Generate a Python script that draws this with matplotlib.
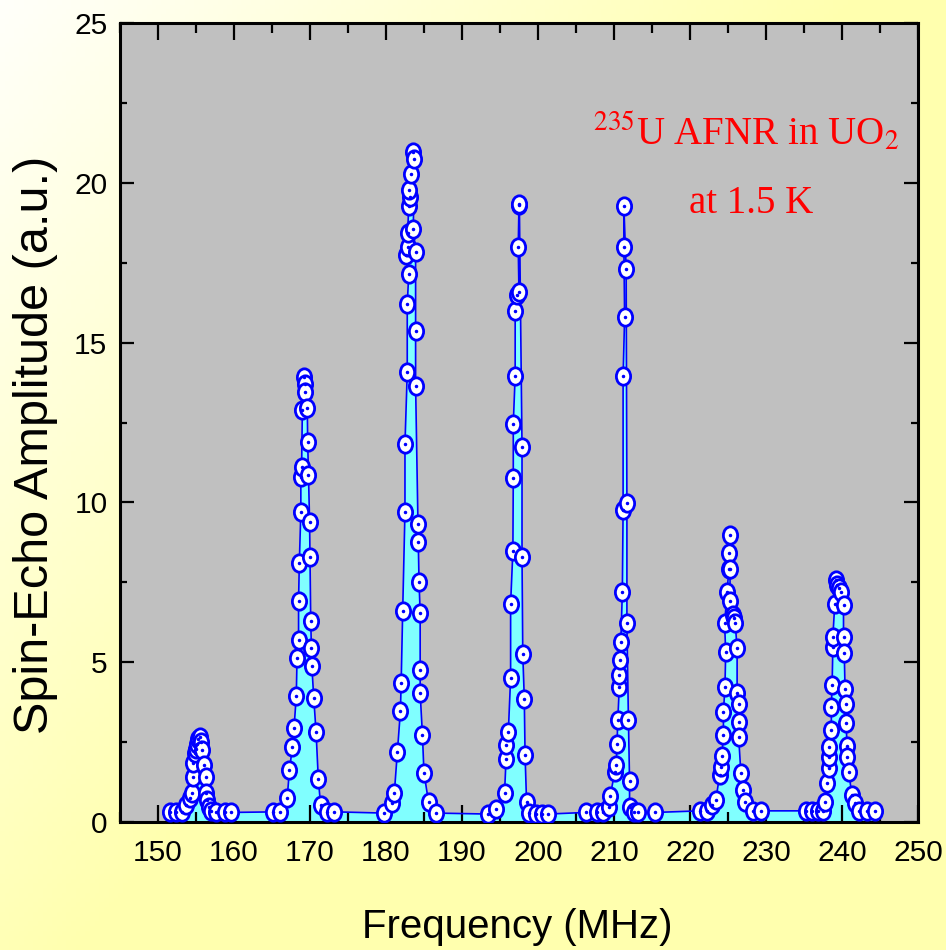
import numpy as np
import matplotlib
matplotlib.use("Agg")
import matplotlib.pyplot as plt
from matplotlib.path import Path
from matplotlib.transforms import Affine2D
from matplotlib.colors import LinearSegmentedColormap

# data, one block per line (left flank up, right flank down)
freq_155 = [151.6, 152.4, 153.1, 153.7, 154.2, 154.5, 154.6, 154.6, 154.9, 155.0, 155.2, 155.3,
            155.5, 155.7, 155.8, 156.1, 156.3, 156.3, 156.4, 156.7, 157.0, 157.7, 158.8, 159.6]
amp_155 = [0.3, 0.3, 0.3, 0.53, 0.75, 0.92, 1.42, 1.85, 2.15, 2.3, 2.45, 2.6,
           2.65, 2.5, 2.25, 1.78, 1.42, 0.9, 0.69, 0.48, 0.35, 0.3, 0.3, 0.3]

freq_169 = [165.1, 166.0, 167.0, 167.3, 167.7, 167.9, 168.2, 168.3, 168.5, 168.5, 168.6, 168.8,
            168.8, 168.9, 169.0, 169.2, 169.3, 169.4, 169.65, 169.7, 169.8, 169.95, 170.0, 170.1,
            170.2, 170.25, 170.5, 170.8, 171.1, 171.4, 172.3, 173.1]
amp_169 = [0.32, 0.32, 0.74, 1.63, 2.36, 2.93, 3.94, 5.14, 5.71, 6.91, 8.11, 9.71,
           10.8, 11.1, 12.9, 13.93, 13.7, 13.46, 12.94, 11.9, 10.86, 9.4, 8.3, 6.3,
           5.43, 4.88, 3.87, 2.83, 1.34, 0.53, 0.32, 0.32]

freq_183 = [179.7, 180.8, 181.1, 181.5, 181.9, 182.0, 182.2, 182.5, 182.5, 182.8, 182.8, 183.0,
            182.6, 182.85, 182.85, 183.0, 183.2, 183.0, 183.3, 183.6, 183.7, 183.6, 183.9, 183.9,
            183.9, 184.2, 184.25, 184.35, 184.5, 184.5, 184.5, 184.8, 185.0, 185.6, 186.6]
amp_183 = [0.28, 0.59, 0.91, 2.19, 3.47, 4.36, 6.6, 9.71, 11.83, 14.07, 16.2, 17.15,
           17.74, 18.0, 18.44, 19.28, 19.55, 19.77, 20.28, 20.95, 20.75, 18.55, 17.85, 15.36,
           13.65, 9.33, 8.77, 7.52, 6.54, 4.76, 4.03, 2.72, 1.54, 0.63, 0.28]

freq_197 = [193.4, 194.5, 195.6, 195.8, 195.8, 196.1, 196.4, 196.4, 196.7, 196.75, 196.75, 197.0,
            197.0, 197.3, 197.5, 197.4, 197.5, 197.55, 197.9, 197.9, 198.0, 198.2, 198.3, 198.5,
            198.8, 199.7, 200.5, 201.3]
amp_197 = [0.25, 0.41, 0.9, 1.97, 2.42, 2.82, 4.51, 6.83, 8.49, 10.77, 12.46, 13.96,
           15.99, 16.5, 16.57, 17.98, 19.3, 19.35, 11.74, 8.29, 5.26, 3.86, 2.1, 0.62,
           0.27, 0.25, 0.25, 0.25]

freq_211 = [206.3, 207.8, 208.6, 209.3, 209.5, 210.1, 210.3, 210.4, 210.5, 210.7, 210.7, 210.8,
            210.9, 211.1, 211.2, 211.2, 211.4, 211.3, 211.3, 211.6, 211.7, 211.7, 211.9, 212.05,
            212.05, 212.65, 213.2, 215.4]
amp_211 = [0.3, 0.3, 0.3, 0.46, 0.81, 1.57, 1.78, 2.43, 3.19, 4.23, 4.6, 5.07,
           5.63, 7.2, 9.76, 13.95, 15.8, 18.0, 19.27, 17.3, 9.98, 6.23, 3.19, 1.28,
           0.48, 0.3, 0.3, 0.3]

freq_225 = [221.3, 222.3, 222.9, 223.4, 223.9, 224.1, 224.2, 224.4, 224.4, 224.6, 224.7, 224.55,
            224.9, 225.1, 225.1, 225.2, 225.25, 225.3, 225.6, 225.8, 225.95, 226.2, 226.2, 226.4,
            226.4, 226.4, 226.7, 227.0, 227.3, 228.25, 229.35]
amp_225 = [0.35, 0.35, 0.53, 0.69, 1.47, 1.73, 2.07, 2.72, 3.45, 4.21, 5.33, 6.22,
           7.2, 7.93, 8.43, 8.98, 7.93, 6.93, 6.48, 6.38, 6.22, 5.43, 4.05, 3.69,
           3.14, 2.67, 1.52, 1.0, 0.64, 0.35, 0.35]

freq_240 = [235.3, 236.1, 236.9, 237.5, 237.8, 238.0, 238.3, 238.3, 238.3, 238.6, 238.6, 238.7,
            238.8, 238.8, 239.05, 239.2, 239.4, 239.6, 239.9, 240.2, 240.2, 240.3, 240.4, 240.5,
            240.5, 240.7, 240.7, 240.9, 241.3, 241.7, 242.2, 243.3, 244.3]
amp_240 = [0.35, 0.35, 0.35, 0.35, 0.64, 1.21, 1.68, 2.02, 2.36, 2.88, 3.61, 4.29,
           5.49, 5.8, 6.82, 7.57, 7.42, 7.31, 7.2, 6.79, 5.8, 5.28, 4.16, 3.69,
           3.11, 2.38, 2.02, 1.55, 0.84, 0.58, 0.35, 0.35, 0.35]

freq = np.concatenate([freq_155, freq_169, freq_183, freq_197, freq_211, freq_225, freq_240])
amp = np.concatenate([amp_155, amp_169, amp_183, amp_197, amp_211, amp_225, amp_240])

sans = ["Liberation Sans", "DejaVu Sans"]
plt.rcParams["mathtext.fontset"] = "stix"

fig = plt.figure(figsize=(9.46, 9.5), dpi=100)

# pale white -> yellow background
bg = fig.add_axes([0, 0, 1, 1], zorder=-10)
yy, xx = np.mgrid[0:1:200j, 0:1:200j]
t = np.clip(1.1 * xx + 0.9 * yy, 0, 1)
cmap = LinearSegmentedColormap.from_list("bg", ["#fffffa", "#ffffae"])
bg.imshow(t, cmap=cmap, aspect="auto", extent=[0, 1, 0, 1], origin="upper", vmin=0, vmax=1)
bg.axis("off")

ax = fig.add_axes([0.1268, 0.1347, 0.8436, 0.8411])
ax.set_facecolor("#c0c0c0")

# fill under the curve, then line and markers
ax.fill(np.concatenate([freq, [freq[-1], freq[0]]]),
        np.concatenate([amp, [0, 0]]), color="#80ffff", lw=0, zorder=1)
ell = Path.unit_circle().transformed(Affine2D().scale(0.82, 1.0))
ax.plot(freq, amp, color="#0000ff", lw=1.2, marker=ell, ms=12.5, mfc="white",
        mec="#0000ff", mew=2.0, zorder=3)
ax.plot(freq, amp, ls="none", marker="o", ms=1.5, color="#0000ff", zorder=4)

ax.set_xlim(145, 250)
ax.set_ylim(0, 25)
ax.set_xticks(np.arange(150, 251, 10))
ax.set_xticks(np.arange(145, 251, 5), minor=True)
ax.set_yticks(np.arange(0, 26, 5))
ax.set_yticks(np.arange(0, 26, 2.5), minor=True)

ax.tick_params(axis="x", which="major", direction="in", top=True, length=12, width=1.6, pad=12)
ax.tick_params(axis="x", which="minor", direction="in", top=True, length=7, width=1.6)
ax.tick_params(axis="y", which="major", direction="in", right=True, length=10, width=1.6, pad=9)
ax.tick_params(axis="y", which="minor", direction="in", right=True, length=5, width=1.6)
for lab in ax.get_xticklabels() + ax.get_yticklabels():
    lab.set_family(sans)
    lab.set_fontsize(21.5)
for sp in ax.spines.values():
    sp.set_linewidth(2.2)

ax.set_xlabel("Frequency (MHz)", family=sans, fontsize=29)
ax.xaxis.set_label_coords(0.4975, -0.107)
ax.set_ylabel("Spin-Echo Amplitude (a.u.)", family=sans, fontsize=35)
ax.yaxis.set_label_coords(-0.078, 0.472)

ax.text(227.4, 21.2, r"$^{235}$U AFNR in UO$_2$", color="red", family="Liberation Serif",
        fontsize=28, ha="center", va="baseline")
ax.text(228.1, 19.05, "at 1.5 K", color="red", family="Liberation Serif",
        fontsize=28, ha="center", va="baseline")

fig.savefig("out.png", dpi=100)
